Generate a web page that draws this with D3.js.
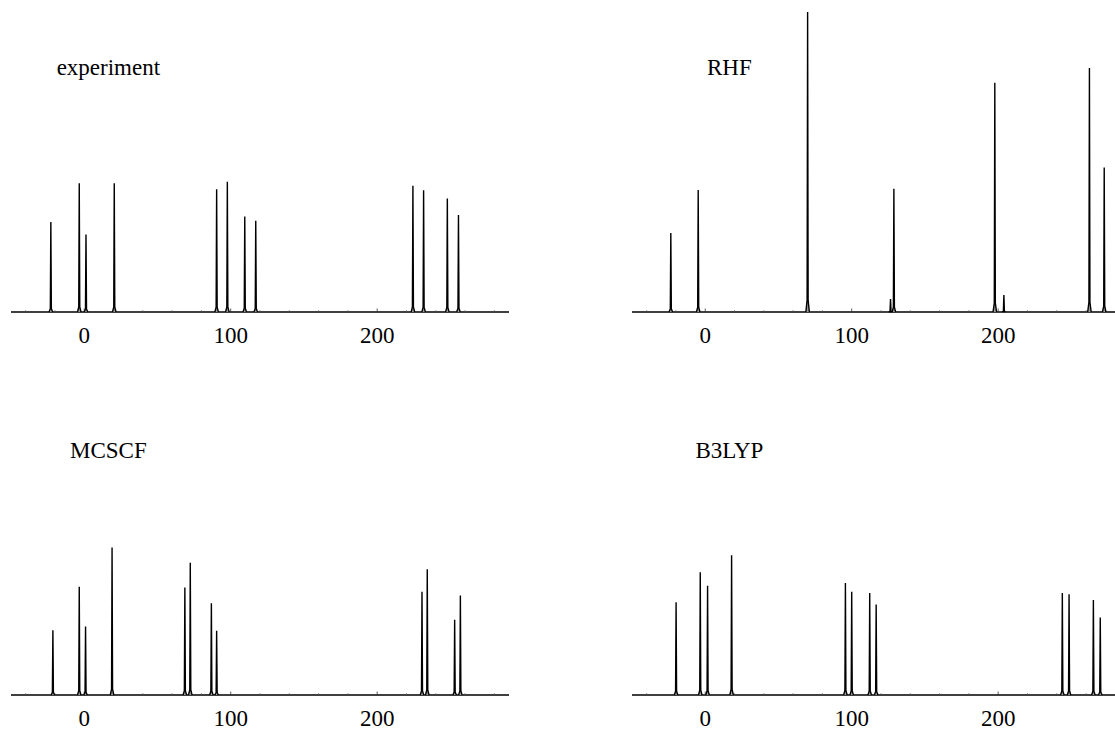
<!DOCTYPE html>
<html>
<head>
<meta charset="utf-8">
<script src="https://cdn.jsdelivr.net/npm/d3@7"></script>
<style>
    body { margin: 0; background: white; }
</style>
</head>
<body>
<script>
'use strict';
// four spectra, one per method, positions / intensities
const expPos = [-22.8, -3.4, 1.2, 20.5, 90.4, 97.7, 109.6, 117.1, 224.4, 231.7, 247.9, 255.5];
const expInt = [30, 42.9, 25.8, 42.9, 40.9, 43.4, 31.8, 30.4, 42.1, 40.6, 37.8, 32.3];

const rhfPos = [-23.5, -4.8, 69.9, 126.5, 128.8, 197.7, 203.9, 262.3, 272.4];
const rhfInt = [26.3, 40.7, 100, 4.3, 41.1, 76.4, 5.7, 81.3, 48.2];

const mcscfPos = [-21.4, -3.4, 0.9, 19, 68.7, 72.4, 86.8, 90.4, 230.6, 234.2, 252.9, 256.8];
const mcscfInt = [21.6, 36.1, 22.8, 49.2, 35.8, 44.1, 30.6, 21.4, 34.4, 41.9, 25.1, 33.2];

const b3lypPos = [-19.9, -3.4, 1.6, 18, 95.7, 100, 112.3, 116.7, 243.8, 248.4, 265, 269.7];
const b3lypInt = [30.9, 40.9, 36.4, 46.6, 37.3, 34.4, 34, 30.2, 34, 33.6, 31.7, 25.8];

const titles = ["experiment", "RHF", "MCSCF", "B3LYP"];
const xDomain = [-50, 290];
const yDomain = [0, 100];
const majorTicks = [0, 100, 200];
const minorTicks = d3.range(-40, 291, 20);

(function() {

    let svg = ""
    const serif = "'Liberation Serif', 'Times New Roman', Times, serif"

    const panels = [
        { title: titles[0], pos: expPos, val: expInt, left: 11, base: 312 },
        { title: titles[1], pos: rhfPos, val: rhfInt, left: 632, base: 312 },
        { title: titles[2], pos: mcscfPos, val: mcscfInt, left: 11, base: 695 },
        { title: titles[3], pos: b3lypPos, val: b3lypInt, left: 632, base: 695 }
    ]

    window.onload = function() {
        svg = d3.select("body").append("svg")
            .attr("width", 1115)
            .attr("height", 731);

        panels.forEach(drawPanel)
    }

    function drawPanel(p) {
        let x = d3.scaleLinear()
            .domain(xDomain)
            .range([p.left, p.left + 498]);

        let y = d3.scaleLinear()
            .domain(yDomain)
            .range([p.base, p.base - 300]);

        let g = svg.append("g");

        // axis line + upward ticks (mathematica look)
        g.append("line")
            .attr("x1", x(xDomain[0]))
            .attr("x2", x(xDomain[1]))
            .attr("y1", y(0))
            .attr("y2", y(0))
            .attr("stroke", "black")
            .attr("stroke-width", 1.4);

        g.selectAll(".minor")
            .data(minorTicks.filter(t => majorTicks.indexOf(t) < 0))
            .enter()
            .append("line")
            .attr("x1", d => x(d))
            .attr("x2", d => x(d))
            .attr("y1", y(0))
            .attr("y2", y(0) - 2)
            .attr("stroke", "#555")
            .attr("stroke-width", 0.6);

        g.selectAll(".major")
            .data(majorTicks)
            .enter()
            .append("line")
            .attr("x1", d => x(d))
            .attr("x2", d => x(d))
            .attr("y1", y(0))
            .attr("y2", y(0) - 3.5)
            .attr("stroke", "#333")
            .attr("stroke-width", 0.8);

        g.selectAll(".tlabel")
            .data(majorTicks)
            .enter()
            .append("text")
            .attr("x", d => x(d))
            .attr("y", y(0) + 31)
            .attr("text-anchor", "middle")
            .attr("font-family", serif)
            .attr("font-size", "23px")
            .attr("fill", "black")
            .text(d => d);

        // one narrow spike per peak
        let peaks = p.pos.map((d, i) => ({ pos: d, val: p.val[i] }));
        let line = d3.line()
            .x(d => x(d[0]))
            .y(d => y(d[1]));

        g.selectAll(".peak")
            .data(peaks)
            .enter()
            .append("path")
            .attr("d", d => line([[d.pos - 1.2, 0], [d.pos - 0.35, d.val * 0.04], [d.pos, d.val], [d.pos + 0.35, d.val * 0.04], [d.pos + 1.2, 0]]))
            .attr("fill", "#999")
            .attr("stroke", "black")
            .attr("stroke-width", 1.4)
            .attr("stroke-linejoin", "miter");

        g.append("text")
            .attr("x", x(16.5))
            .attr("y", y(0) - 237)
            .attr("text-anchor", "middle")
            .attr("font-family", serif)
            .attr("font-size", "23px")
            .attr("fill", "black")
            .text(p.title);
    }
})()
</script>
</body>
</html>
